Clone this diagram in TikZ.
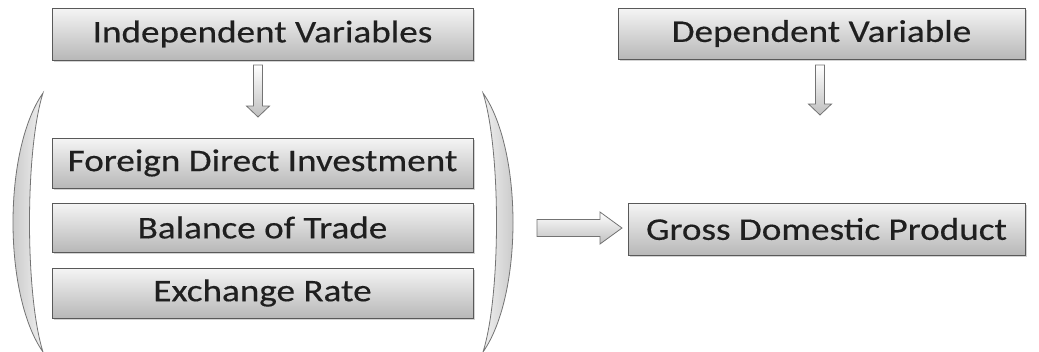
\documentclass[tikz,border=0pt]{standalone}
\usepackage{fontspec}
\setmainfont[FakeStretch=1.18,FakeBold=0.4]{Carlito}
\usetikzlibrary{shadows}
\begin{document}
\begin{tikzpicture}[x=1pt,y=-1pt,
  box/.style={draw=black!65, line width=1pt, rectangle, inner sep=0pt,
    top color=black!4, bottom color=black!28, text=black!88,
    font=\fontsize{31.5}{36}\selectfont,
    drop shadow={shadow xshift=1.5pt, shadow yshift=-1.5pt, opacity=0.35}},
  blockarrow/.style={draw=black!55, line width=0.8pt, top color=white, bottom color=black!25},
  bracket/.style={draw=black!55, line width=0.8pt, left color=black!25, right color=black!6}]
\useasboundingbox (0,0) rectangle (1039,351);
\clip (0,0) rectangle (1039,351);

\node[box, minimum width=421pt, minimum height=52pt] (iv) at (262.5,34) {Independent Variables};
\node[box, minimum width=421pt, minimum height=50pt] (fdi) at (262.5,163) {Foreign Direct Investment};
\node[box, minimum width=421pt, minimum height=49pt] (bot) at (262.5,227.5) {Balance of Trade};
\node[box, minimum width=421pt, minimum height=50pt] (er) at (262.5,293) {Exchange Rate};
\node[box, minimum width=407pt, minimum height=51pt] (dv) at (821.5,33.5) {Dependent Variable};
\node[box, minimum width=397pt, minimum height=52pt] (gdp) at (826.5,229) {Gross Domestic Product};

% down arrow, independent
\draw[blockarrow] (253.5,65) -- (262.5,65) -- (262.5,106) -- (269.5,106) -- (258,117)
  -- (246.5,106) -- (253.5,106) -- cycle;
% down arrow, dependent
\draw[blockarrow] (815.5,65) -- (824.5,65) -- (824.5,104) -- (831.5,104) -- (820,115)
  -- (808.5,104) -- (815.5,104) -- cycle;
% right arrow
\draw[blockarrow] (537,219.5) -- (600,219.5) -- (600,212) -- (622,228) -- (600,244)
  -- (600,236.5) -- (537,236.5) -- cycle;

% brackets
\draw[bracket] (43,93) .. controls (3,150) and (3,295) .. (43,352)
  .. controls (25,295) and (25,150) .. (43,93) -- cycle;
\draw[bracket, left color=black!6, right color=black!25] (483,93) .. controls (523,150) and (523,295) .. (483,352)
  .. controls (501,295) and (501,150) .. (483,93) -- cycle;
\end{tikzpicture}
\end{document}
